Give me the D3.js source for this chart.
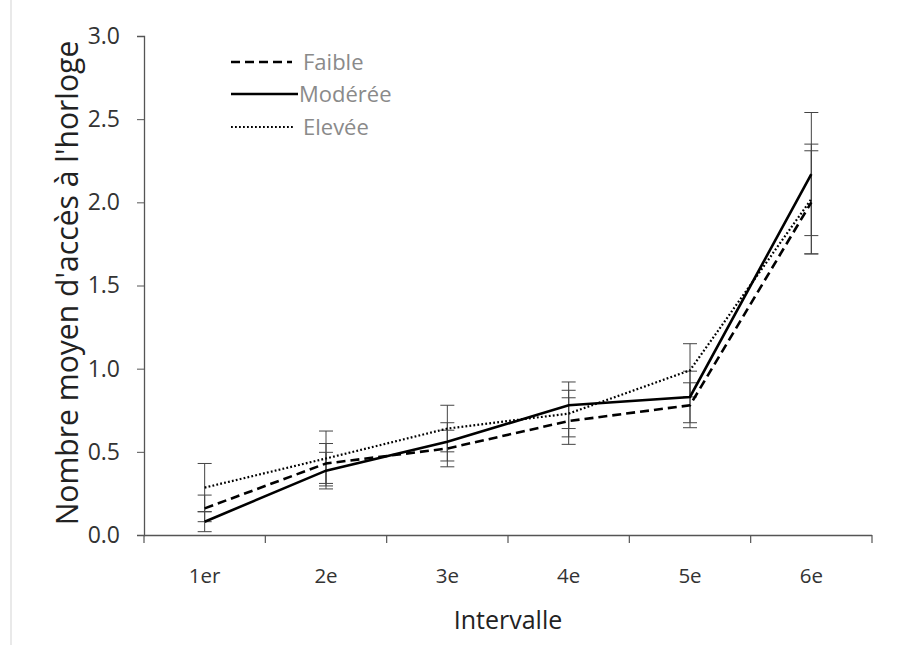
<!DOCTYPE html>
<html><head><meta charset="utf-8">
<script src="https://cdn.jsdelivr.net/npm/d3@7"></script>
<style>body{margin:0;background:#fff}svg{display:block}</style>
</head><body>
<script>
const categories = ["1er","2e","3e","4e","5e","6e"];
const seriesNames = ["Faible","Modérée","Elevée"];
const faible = [0.16,0.43,0.52,0.685,0.78,2.00];
const faibleErr = [0.08,0.12,0.11,0.14,0.135,0.31];
const moderee = [0.08,0.387,0.56,0.78,0.83,2.17];
const modereeErr = [0.06,0.11,0.115,0.14,0.155,0.37];
const elevee = [0.285,0.46,0.64,0.73,0.99,2.02];
const eleveeErr = [0.145,0.165,0.14,0.14,0.16,0.33];
const yTicks = [0,0.5,1.0,1.5,2.0,2.5,3.0];

const W=904,H=645;
const FONT="'Open Sans',sans-serif";
const svg=d3.select("body").append("svg").attr("width",W).attr("height",H);
svg.append("line").attr("x1",11).attr("x2",11).attr("y1",0).attr("y2",H).attr("stroke","#e2e2e2").attr("stroke-width",1.5);

const x=d3.scaleBand().domain(categories).range([144,872]);
const y=d3.scaleLinear().domain([0,3]).range([535,36]);

// Y axis
const ya=svg.append("g").attr("transform","translate(144,0)")
 .call(d3.axisLeft(y).tickValues(yTicks).tickFormat(d3.format(".1f")).tickSize(7).tickPadding(17));
ya.select(".domain").attr("stroke","#555").attr("stroke-width",1.3).attr("d","M-7,36.5H0.5V535.5H-7");
ya.selectAll(".tick line").attr("stroke","#555");
ya.selectAll("text").attr("font-family",FONT).attr("font-size",23).attr("fill","#333");

// X axis
const xa=svg.append("g").attr("transform","translate(0,535)")
 .call(d3.axisBottom(x).tickSize(0).tickPadding(33));
xa.select(".domain").attr("stroke","#555").attr("stroke-width",1.3).attr("d","M144,0.5H872");
xa.selectAll("text").attr("font-family",FONT).attr("font-size",20.5).attr("fill","#333");
const bounds=[...categories.map(c=>x(c)),x(categories[categories.length-1])+x.bandwidth()];
xa.selectAll(".bnd").data(bounds).enter().append("line")
 .attr("x1",d=>d).attr("x2",d=>d).attr("y1",0).attr("y2",8).attr("stroke","#555").attr("stroke-width",1.2);

// Titles
svg.append("text").attr("x",508).attr("y",629).attr("text-anchor","middle")
 .attr("font-family",FONT).attr("font-size",25).attr("fill","#222").text("Intervalle");
const yt=svg.append("text").attr("transform","translate(78,283) rotate(-90)").attr("text-anchor","middle")
 .attr("font-family",FONT).attr("font-size",24).attr("fill","#222").text("Nombre moyen d'accès à l'horloge");
const tl=yt.node().getComputedTextLength();
yt.attr("font-size",24*485/tl);

const series=[
 {name:seriesNames[0],vals:faible,err:faibleErr,dash:"9,5",w:2.6,lx:292},
 {name:seriesNames[1],vals:moderee,err:modereeErr,dash:null,w:2.6,lx:298},
 {name:seriesNames[2],vals:elevee,err:eleveeErr,dash:"1.8,2.2",w:2.2,lx:295}
];
const cx=c=>x(c)+x.bandwidth()/2;
// error bars
series.forEach(s=>{
 const g=svg.append("g");
 categories.forEach((c,i)=>{
  const v=s.vals[i],e=s.err[i];
  g.append("line").attr("x1",cx(c)).attr("x2",cx(c)).attr("y1",y(v-e)).attr("y2",y(v+e)).attr("stroke","#444").attr("stroke-width",1);
  [v-e,v+e].forEach(t=>g.append("line").attr("x1",cx(c)-7).attr("x2",cx(c)+7).attr("y1",y(t)).attr("y2",y(t)).attr("stroke","#444").attr("stroke-width",1));
 });
});
const line=d3.line().x((d,i)=>cx(categories[i])).y(d=>y(d));
series.forEach(s=>{
 svg.append("path").datum(s.vals).attr("d",line).attr("fill","none").attr("stroke","#000")
  .attr("stroke-width",s.w).attr("stroke-dasharray",s.dash);
});

// Legend
const leg=[62,94,127];
series.forEach((s,i)=>{
 svg.append("line").attr("x1",231).attr("x2",s.lx).attr("y1",leg[i]).attr("y2",leg[i])
  .attr("stroke","#000").attr("stroke-width",s.w).attr("stroke-dasharray",s.dash);
 svg.append("text").attr("x",i===1?299:303).attr("y",leg[i]+7.5).attr("font-family",FONT)
  .attr("font-size",22).attr("fill","#8a8a8a").text(s.name);
});
</script>
</body></html>
